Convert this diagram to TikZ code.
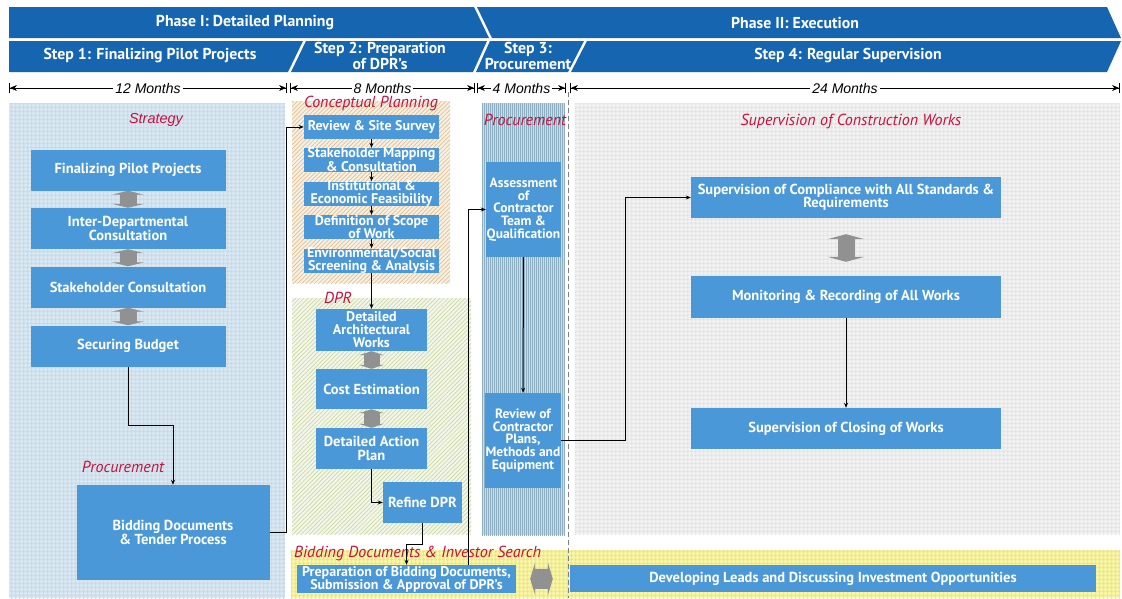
\documentclass[tikz,border=0pt]{standalone}
\usepackage{fontspec}
\setmainfont{PT Sans}
\newfontfamily\arialfont{Liberation Sans}
\usetikzlibrary{arrows.meta,patterns.meta}

\definecolor{hdrblue}{RGB}{22,101,176}
\definecolor{boxblue}{RGB}{74,152,216}
\definecolor{arrowgrey}{RGB}{145,145,145}
\definecolor{tagred}{RGB}{200,16,60}
\definecolor{stratfill}{RGB}{216,231,242}
\definecolor{stratline}{RGB}{198,217,233}
\definecolor{concfill}{RGB}{248,240,226}
\definecolor{concline}{RGB}{222,192,148}
\definecolor{dprfill}{RGB}{243,246,233}
\definecolor{dprline}{RGB}{202,216,166}
\definecolor{procfill}{RGB}{202,221,231}
\definecolor{procline}{RGB}{142,176,194}
\definecolor{supfill}{RGB}{241,241,241}
\definecolor{supline}{RGB}{227,227,227}
\definecolor{bidfill}{RGB}{248,246,166}
\definecolor{bidline}{RGB}{236,232,120}

\tikzset{
  box/.style={fill=boxblue, text=white, inner sep=1pt, align=center,
    font=\bfseries\fontsize{14.5}{13.3}\selectfont},
  smallbox/.style={box, inner xsep=0pt, inner ysep=-1pt,
    font=\bfseries\fontsize{14}{12.6}\selectfont},
  hdr/.style={text=white, align=center, font=\bfseries\fontsize{15.8}{16}\selectfont},
  tag/.style={text=tagred, inner sep=0pt, font=\itshape\fontsize{16}{16}\selectfont},
  months/.style={fill=white, inner sep=2pt, font=\arialfont\itshape\fontsize{14}{14}\selectfont},
  span/.style={line width=0.9pt,
    {Bar[width=10pt]Stealth[length=7pt,width=6pt]}-{Stealth[length=7pt,width=6pt]Bar[width=10pt]}},
  link/.style={line width=1pt, -{Stealth[length=5pt,width=4pt]}},
  twoway/.style={arrowgrey, line width=17pt,
    {Triangle[width=32pt,length=4pt]}-{Triangle[width=32pt,length=4pt]}},
}

\begin{document}
\begin{tikzpicture}[x=1pt,y=-1pt]
\useasboundingbox (0,0) rectangle (1122,598);

% header bars
\fill[hdrblue] (9,7) -- (474,7) -- (489,38) -- (9,38) -- cycle;
\fill[hdrblue] (477,7) -- (1107,7) -- (1121,38) -- (492,38) -- cycle;
\fill[hdrblue] (9,41) -- (303,41) -- (288,72) -- (9,72) -- cycle;
\fill[hdrblue] (306,41) -- (487,41) -- (473,72) -- (291,72) -- cycle;
\fill[hdrblue] (490,41) -- (584,41) -- (568,72) -- (476,72) -- cycle;
\fill[hdrblue] (587,41) -- (1121,41) -- (1107,72) -- (571,72) -- cycle;
\node[hdr] (ph1) at (245,23) {Phase I: Detailed Planning};
\node[hdr] (ph2) at (795,23) {Phase II: Execution};
\node[hdr] (st1) at (150,56) {Step 1: Finalizing Pilot Projects};
\node[hdr] (st2) at (380,56) {Step 2: Preparation\\of DPR’s};
\node[hdr] (st3) at (528,56) {Step 3:\\Procurement};
\node[hdr] (st4) at (848,56) {Step 4: Regular Supervision};

% durations
\coordinate (m0) at (9,88);
\coordinate (m1) at (287,88);
\coordinate (m2) at (290,88);
\coordinate (m3) at (475,88);
\coordinate (m4) at (477,88);
\coordinate (m5) at (566,88);
\coordinate (m6) at (570,88);
\coordinate (m7) at (1120,88);
\draw[span] (m0) -- node[months] (mo1) {12 Months} (m1);
\draw[span] (m2) -- node[months] (mo2) {8 Months} (m3);
\draw[span] (m4) -- node[months] (mo3) {4 Months} (m5);
\draw[span] (m6) -- node[months] (mo4) {24 Months} (m7);

% panels
\path[fill=stratfill, postaction={pattern={Hatch[angle=0,distance=4pt,line width=1pt]}, pattern color=stratline}] (9,103) rectangle (285,598);
\path[fill=concfill, postaction={pattern={Lines[angle=45,distance=3pt,line width=0.7pt]}, pattern color=concline}] (292,101) rectangle (450,283);
\path[fill=dprfill, postaction={pattern={Lines[angle=45,distance=3pt,line width=0.7pt]}, pattern color=dprline}] (292,298) rectangle (471,534);
\path[fill=procfill, postaction={pattern={Lines[angle=90,distance=2pt,line width=0.6pt]}, pattern color=procline}] (482,103) rectangle (565,535);
\path[fill=supfill, postaction={pattern={Hatch[angle=0,distance=4pt,line width=1pt]}, pattern color=supline}] (575,103) rectangle (1120,534);
\path[fill=bidfill, postaction={pattern={Hatch[angle=0,distance=4pt,line width=1pt]}, pattern color=bidline}] (291,550) rectangle (1120,598);
\draw[gray, line width=0.8pt, dash pattern=on 5pt off 3pt] (568,92) -- (568,598);

% panel titles
\node[tag, font=\arialfont\itshape\fontsize{14.5}{14.5}\selectfont] (tstrat) at (156,120) {Strategy};
\node[tag] (tproc1) at (123,467) {Procurement};
\node[tag] (tconc) at (371,103) {Conceptual Planning};
\node[tag] (tdpr) at (338,298) {DPR};
\node[tag] (tproc2) at (525,120) {Procurement};
\node[tag] (tsup) at (851,121) {Supervision of Construction Works};
\node[tag, anchor=west] (tbid) at (294,553) {Bidding Documents \& Investor Search};

% step 1
\node[box,minimum width=195pt,minimum height=41pt] (fpp) at (128,170) {Finalizing Pilot Projects};
\node[box,minimum width=195pt,minimum height=41pt] (idc) at (128,228.5) {Inter-Departmental\\Consultation};
\node[box,minimum width=195pt,minimum height=41pt] (shc) at (128,287) {Stakeholder Consultation};
\node[box,minimum width=195pt,minimum height=41pt] (sbud) at (128,346) {Securing Budget};
\node[box,minimum width=193pt,minimum height=95pt] (bdtp) at (173,532.5) {Bidding Documents\\\& Tender Process};

% step 2
\node[smallbox,minimum width=135pt,minimum height=24pt] (rss) at (371.5,127) {Review \& Site Survey};
\node[smallbox,minimum width=135pt,minimum height=24pt] (smc) at (371.5,160) {Stakeholder Mapping\\\& Consultation};
\node[smallbox,minimum width=135pt,minimum height=24pt] (ief) at (371.5,193.5) {Institutional \&\\Economic Feasibility};
\node[smallbox,minimum width=135pt,minimum height=24pt] (dsw) at (371.5,227) {Definition of Scope\\of Work};
\node[smallbox,minimum width=135pt,minimum height=24pt] (esa) at (371.5,260.5) {Environmental/Social\\Screening \& Analysis};
\node[box,minimum width=111pt,minimum height=42pt,font=\bfseries\fontsize{14}{13}\selectfont] (daw) at (371.5,330) {Detailed\\Architectural\\Works};
\node[box,minimum width=111pt,minimum height=40pt] (cest) at (371.5,389) {Cost Estimation};
\node[box,minimum width=111pt,minimum height=41pt] (dap) at (371.5,448.5) {Detailed Action\\Plan};
\node[box,minimum width=79pt,minimum height=41pt] (rdpr) at (422.5,502.5) {Refine DPR};
\node[box,minimum width=219pt,minimum height=28pt,inner sep=0pt,font=\bfseries\fontsize{14}{13}\selectfont] (prep) at (406.5,579) {Preparation of Bidding Documents,\\Submission \& Approval of DPR’s};

% step 3
\node[box,minimum width=75pt,minimum height=95pt,inner sep=0pt,font=\bfseries\fontsize{13.5}{12.8}\selectfont] (acq) at (523.5,209.5) {Assessment\\of\\Contractor\\Team \&\\Qualification};
\node[box,minimum width=76pt,minimum height=95pt,inner sep=0pt,font=\bfseries\fontsize{13.5}{12.8}\selectfont] (rcp) at (523,440.5) {Review of\\Contractor\\Plans,\\Methods and\\Equipment};

% step 4
\node[box,minimum width=310pt,minimum height=41pt] (soc) at (846,197.5) {Supervision of Compliance with All Standards \&\\Requirements};
\node[box,minimum width=310pt,minimum height=42pt] (mra) at (846,297) {Monitoring \& Recording of All Works};
\node[box,minimum width=310pt,minimum height=41pt] (scw) at (846,428.5) {Supervision of Closing of Works};
\node[box,minimum width=526pt,minimum height=27pt] (dlio) at (833,578.5) {Developing Leads and Discussing Investment Opportunities};

% grey two-way arrows
\draw[twoway] (fpp) -- (idc);
\draw[twoway] (idc) -- (shc);
\draw[twoway] (shc) -- (sbud);
\draw[twoway, line width=16pt, {Triangle[width=25pt,length=4pt]}-{Triangle[width=25pt,length=4pt]}] (daw) -- (cest);
\draw[twoway, line width=16pt, {Triangle[width=25pt,length=4pt]}-{Triangle[width=25pt,length=4pt]}] (cest) -- (dap);
\draw[twoway, shorten <=16pt, shorten >=14pt, {Triangle[width=37pt,length=5pt]}-{Triangle[width=37pt,length=5pt]}] (soc) -- (mra);
\draw[twoway, line width=20pt, shorten <=14pt, shorten >=17pt, {Triangle[width=33pt,length=5pt]}-{Triangle[width=33pt,length=5pt]}] (prep) -- (dlio);

% flow
\draw[link] (sbud.south) -- ++(0,59) -| (bdtp.north);
\draw[link] (bdtp.east) -- ++(17,0) |- (rss.west);
\draw[link] (rss) -- (smc);
\draw[link] (smc) -- (ief);
\draw[link] (ief) -- (dsw);
\draw[link] (dsw) -- (esa);
\draw[link] (esa) -- (daw);
\draw[link] (dap.south) |- (rdpr.west);
\draw[link] (rdpr.south) -- ++(0,21) -| (prep.north);
\draw[link] ([xshift=-48pt]prep.north east) |- (acq.west);
\draw[link] (acq) -- (rcp);
\draw[link] (rcp.east) -- ++(64,0) |- (soc.west);
\draw[link] (mra) -- (scw);
\end{tikzpicture}
\end{document}
